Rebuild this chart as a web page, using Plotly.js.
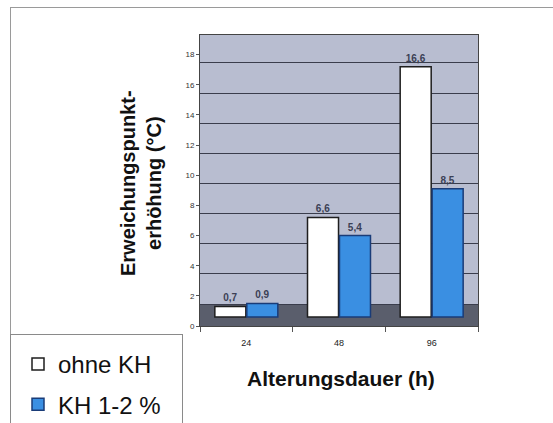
<!DOCTYPE html>
<html>
<head>
<meta charset="utf-8">
<script src="https://cdn.plot.ly/plotly-3.0.1.min.js"></script>
<style>
  html, body { margin: 0; padding: 0; background: #ffffff; overflow: hidden; }
  #frame { position: absolute; left: 10px; top: 7px; width: 600px; height: 500px;
           border-top: 1px solid #9a9a9a; border-left: 1px solid #9a9a9a; }
  #legbox { position: absolute; left: 10px; top: 334px; width: 171px; height: 120px;
            border: 1px solid #8a8a8a; background: #ffffff; }
  #chart { position: absolute; left: 0; top: 0; width: 553px; height: 423px; }
</style>
</head>
<body>
<div id="frame"></div>
<div id="legbox"></div>
<div id="chart"></div>
<script>
const categories = ['24', '48', '96'];
const seriesNames = ['ohne KH', 'KH 1-2 %'];
const ohneKH = [0.7, 6.6, 16.6];
const kh12 = [0.9, 5.4, 8.5];
const yTickVals = [0, 2, 4, 6, 8, 10, 12, 14, 16, 18];
const yTitle = 'Erweichungspunkt-<br>erhöhung (°C)';
const xTitle = 'Alterungsdauer (h)';

const fmt = v => v.toFixed(1).replace('.', ',');
const BASE3D = 0.6;   // visual offset imitating the 3D floor
const GRIDSHIFT = 0.55;

const textFont = { family: 'Liberation Sans, Arial, sans-serif', size: 10, color: '#3b4055', weight: 'bold' };

const traces = [
  {
    type: 'bar', name: seriesNames[0], legendgroup: 'a', x: categories, y: ohneKH, base: BASE3D,
    text: ohneKH.map(fmt), textposition: 'outside', textfont: textFont, cliponaxis: false,
    marker: { color: '#ffffff', line: { color: '#1e1e1e', width: 1.5 } },
    hoverinfo: 'skip'
  },
  {
    type: 'bar', name: seriesNames[1], legendgroup: 'b', x: categories, y: kh12, base: BASE3D,
    text: kh12.map(fmt), textposition: 'outside', textfont: textFont, cliponaxis: false,
    marker: { color: '#3a8fe2', line: { color: '#1a3c78', width: 1.5 } },
    hoverinfo: 'skip'
  },
  { type: 'scatter', x: [], y: [], yaxis: 'y2', showlegend: false, hoverinfo: 'skip' }
];

const layout = {
  width: 553, height: 423,
  paper_bgcolor: 'rgba(0,0,0,0)',
  plot_bgcolor: '#b8bdd0',
  margin: { l: 200, r: 75, t: 35, b: 97, pad: 0 },
  barmode: 'group', bargap: 0.31, bargroupgap: 0.03,
  showlegend: true,
  legend: {
    xref: 'container', yref: 'container', x: 18 / 553, y: 1 - 342 / 423,
    xanchor: 'left', yanchor: 'top',
    bgcolor: 'rgba(0,0,0,0)', borderwidth: 0,
    font: { family: 'Liberation Sans, Arial, sans-serif', size: 24, color: '#111' },
    itemwidth: 30, traceorder: 'grouped', tracegroupgap: 6
  },
  xaxis: {
    type: 'category', tickson: 'boundaries', ticks: 'outside', ticklen: 5, tickcolor: '#555',
    showline: true, linecolor: '#444', mirror: true, showgrid: false,
    ticklabelstandoff: 8,
    tickfont: { family: 'Liberation Sans, Arial, sans-serif', size: 9, color: '#222' },
    automargin: false, fixedrange: true
  },
  yaxis: {
    range: [0, 19.3], tickvals: yTickVals, ticks: 'outside', ticklen: 3, tickcolor: '#555',
    showline: true, linecolor: '#444', mirror: true, showgrid: false, zeroline: false,
    tickfont: { family: 'Liberation Sans, Arial, sans-serif', size: 8, color: '#333' },
    automargin: false, fixedrange: true
  },
  yaxis2: {
    overlaying: 'y', range: [GRIDSHIFT, 19.3 + GRIDSHIFT], tickvals: yTickVals,
    showgrid: true, gridcolor: '#3a3d4c', gridwidth: 1, zeroline: false,
    showticklabels: false, ticks: '', showline: false, fixedrange: true
  },
  annotations: [
    { text: yTitle, xref: 'paper', yref: 'paper', x: (141 - 200) / 278, y: (326 - 183) / 291,
      xanchor: 'center', yanchor: 'middle', textangle: -90, showarrow: false, align: 'center',
      font: { family: 'Liberation Sans, Arial, sans-serif', size: 20, color: '#111', weight: 'bold' } },
    { text: xTitle, xref: 'paper', yref: 'paper', x: (341 - 200) / 278, y: (326 - 378) / 291,
      xanchor: 'center', yanchor: 'middle', showarrow: false,
      font: { family: 'Liberation Sans, Arial, sans-serif', size: 21, color: '#111', weight: 'bold' } }
  ],
  shapes: [
    { type: 'rect', xref: 'paper', yref: 'y', x0: 0, x1: 1, y0: 0, y1: 2 - GRIDSHIFT,
      fillcolor: '#5a5e6c', line: { width: 0 }, layer: 'between' }
  ]
};

Plotly.newPlot('chart', traces, layout, { staticPlot: true, displayModeBar: false });
</script>
</body>
</html>
